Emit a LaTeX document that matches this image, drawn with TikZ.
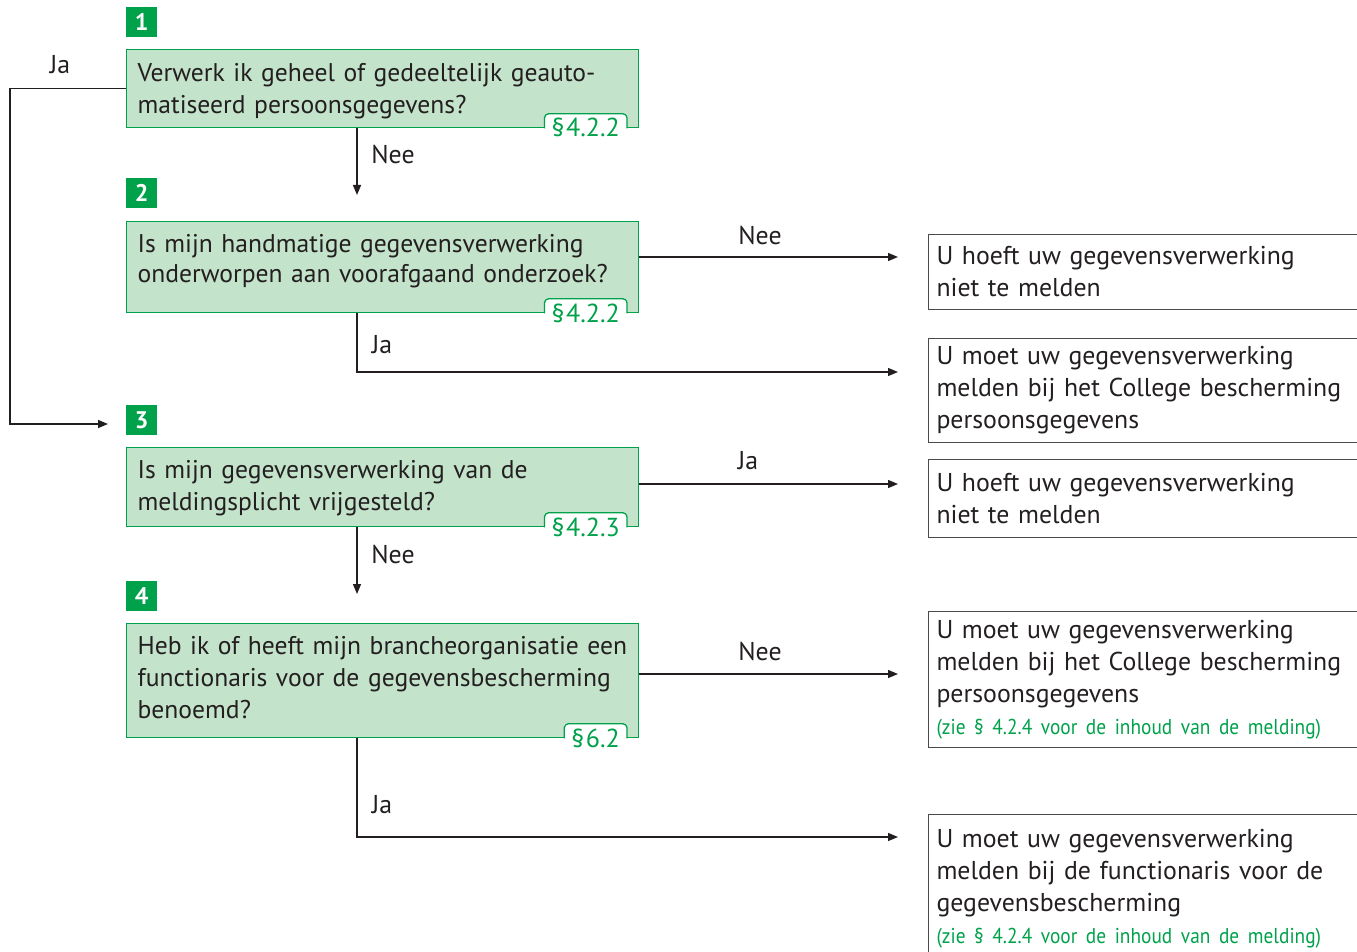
\documentclass[tikz,border=0pt]{standalone}
\usepackage{fontspec}
\setmainfont[WordSpace=0.8]{PT Sans}
\newfontfamily\condfont[FakeStretch=0.9, WordSpace=0.7]{PT Sans}
\definecolor{vgText}{HTML}{231F20}
\definecolor{vgGreen}{HTML}{00A14B}
\definecolor{vgFill}{HTML}{C4E3CB}
\definecolor{vgEdge}{HTML}{4A4A4A}
\newcommand{\vgnote}[1]{{\color{vgGreen}\condfont\fontsize{21.5}{32}\selectfont #1}}
\usetikzlibrary{calc,positioning,arrows.meta}

\begin{document}
\begin{tikzpicture}[x=1pt, y=-1pt,
  question/.style={draw=vgGreen, line width=1.3pt, fill=vgFill, text=vgText,
    anchor=north west, text width=490pt, inner xsep=11pt, inner ysep=0pt,
    align=left, font=\fontsize{25.6}{32}\selectfont},
  outcome/.style={draw=vgEdge, line width=1pt, text=vgText, anchor=north west,
    text width=430pt, inner xsep=8pt, inner ysep=0pt, align=left,
    font=\fontsize{25.8}{32}\selectfont},
  badge/.style={fill=vgGreen, text=white, anchor=north west, inner sep=0pt,
    minimum width=31pt, minimum height=30pt, font=\bfseries\fontsize{24}{24}\selectfont},
  tag/.style={fill=white, text=vgGreen, anchor=base east, inner xsep=7pt,
    inner ysep=0pt, text height=23pt, text depth=8pt,
    font=\fontsize{26}{26}\selectfont},
  tagline/.style={draw=vgGreen, line width=1.3pt, rounded corners=4pt},
  lbl/.style={text=vgText, font=\fontsize{25.8}{26}\selectfont, inner sep=0pt},
  arr/.style={-{Triangle[length=10pt, width=8pt]}, line width=1.3pt, color=vgText}
]
  \useasboundingbox (0,0) rectangle (1357,952);
  \clip (0,0) rectangle (1357,952);
  % Step badges
  \node[badge] (n1) at (126,7)   {1};
  \node[badge] (n2) at (126,178) {2};
  \node[badge] (n3) at (126,405) {3};
  \node[badge] (n4) at (126,581) {4};
  % Questions
  \node[question, minimum height=78pt] (q1) at (126,49)
    {\rule{0pt}{24pt}Verwerk ik geheel of gedeeltelijk geauto-\\matiseerd persoonsgegevens?};
  \node[question, minimum height=91pt] (q2) at (126,221)
    {Is mijn handmatige gegevensverwerking\\[-2pt]onderworpen aan voorafgaand onderzoek?\rule[-18pt]{0pt}{18pt}};
  \node[question, minimum height=79pt] (q3) at (126,447)
    {\rule{0pt}{21pt}Is mijn gegevensverwerking van de\\meldingsplicht vrijgesteld?};
  \node[question, minimum height=114pt] (q4) at (126,623)
    {\mbox{Heb ik of heeft mijn brancheorganisatie een}\\functionaris voor de gegevensbescherming\\benoemd?\rule[-6pt]{0pt}{6pt}};
  % Paragraph tags
  \node[tag] (t1) at (627,137) {\S\kern1.5pt4.2.2};
  \node[tag] (t2) at (627,322) {\S\kern1.5pt4.2.2};
  \node[tag] (t3) at (627,536) {\S\kern1.5pt4.2.3};
  \node[tag] (t4) at (627,747) {\S\kern1.5pt6.2};
  \foreach \t/\q in {t1/q1, t2/q2, t3/q3, t4/q4}
    \draw[tagline] (\t.south west |- \q.south) -- (\t.north west)
      -- (\t.north east) -- (\t.south east |- \q.south);
  % Outcomes
  \node[outcome, minimum height=75pt] (ra) at (928,234)
    {U hoeft uw gegevensverwerking\\niet te melden};
  \node[outcome, minimum height=104pt] (rb) at (928,338)
    {U moet uw gegevensverwerking\\melden bij het College bescherming\\persoonsgegevens};
  \node[outcome, minimum height=78pt] (rc) at (928,459)
    {U hoeft uw gegevensverwerking\\niet te melden};
  \node[outcome, minimum height=136pt] (rd) at (928,611)
    {U moet uw gegevensverwerking\\melden bij het College bescherming\\persoonsgegevens\\
     \vgnote{(zie \S\ 4.2.4 voor de inhoud van de melding)}};
  \node[outcome, minimum height=148pt] (re) at (928,814)
    {U moet uw gegevensverwerking\\melden bij de functionaris voor de\\gegevensbescherming\\
     \vgnote{(zie \S\ 4.2.4 voor de inhoud van de melding)}};
  % Arrow end points
  \coordinate (c2) at (357,195);
  \coordinate (c3) at (108,424);
  \coordinate (c4) at (357,594);
  \coordinate (ea) at (898,257);
  \coordinate (eb) at (898,372);
  \coordinate (ec) at (898,484);
  \coordinate (ed) at (898,674);
  \coordinate (ee) at (898,837);
  % Connectors
  \draw[arr] (q1.south -| c2) -- (c2);
  \draw[arr] (q1.west) -- ++(-116,0) |- (c3);
  \draw[arr] (q2.east |- ea) -- (ea);
  \draw[arr] (q2.south -| c2) |- (eb);
  \draw[arr] (q3.east |- ec) -- (ec);
  \draw[arr] (q3.south -| c4) -- (c4);
  \draw[arr] (q4.east |- ed) -- (ed);
  \draw[arr] (q4.south -| c4) |- (ee);
  % Labels
  \node[lbl] (ja1)  at (60,65)   {Ja};
  \node[lbl] (nee1) at (393,154) {Nee};
  \node[lbl] (nee2) at (760,235) {Nee};
  \node[lbl] (ja2)  at (382,345) {Ja};
  \node[lbl] (ja3)  at (748,461) {Ja};
  \node[lbl] (nee3) at (393,554) {Nee};
  \node[lbl] (nee4) at (760,651) {Nee};
  \node[lbl] (ja4)  at (382,805) {Ja};
\end{tikzpicture}
\end{document}
